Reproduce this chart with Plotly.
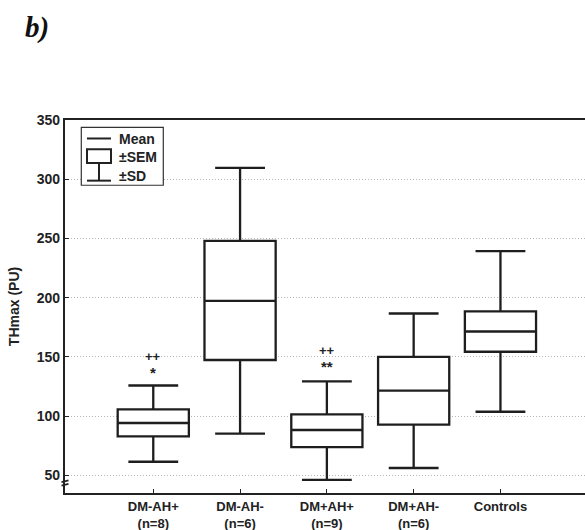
import plotly.graph_objects as go

categories = ["DM-AH+", "DM-AH-", "DM+AH+", "DM+AH-", "Controls"]
group_n = ["(n=8)", "(n=6)", "(n=9)", "(n=6)", ""]
mean_vals = [94.1, 197.3, 88.2, 121.4, 171.4]
sem_low = [82.8, 147.3, 73.8, 92.7, 154.3]
sem_high = [105.6, 247.9, 101.4, 150.0, 188.4]
sd_low = [61.4, 85.1, 46.0, 56.1, 103.6]
sd_high = [125.8, 309.5, 129.2, 186.6, 239.2]
sig_top = ["++", "", "++", "", ""]
sig_top_y = [150.3, None, 155.4, None, None]
sig_bot = ["*", "", "**", "", ""]
sig_bot_y = [136.8, None, 141.9, None, None]
y_ticks = [50, 100, 150, 200, 250, 300, 350]

FONT = "Liberation Sans, Arial, sans-serif"
positions = list(range(len(categories)))
tick_text = [c + ("<br>" + n if n else "") for c, n in zip(categories, group_n)]

fig = go.Figure()
for i, c in enumerate(categories):
    fig.add_trace(go.Box(
        x=[positions[i]], q1=[sem_low[i]], median=[mean_vals[i]], q3=[sem_high[i]],
        lowerfence=[sd_low[i]], upperfence=[sd_high[i]],
        width=0.82, whiskerwidth=0.70,
        line=dict(color="#1e1e1e", width=2.3), fillcolor="white",
        boxpoints=False, showlegend=False, hoverinfo="skip",
    ))

for i in positions:
    if sig_top[i]:
        fig.add_annotation(x=i, y=sig_top_y[i], text=sig_top[i], showarrow=False,
                           font=dict(family=FONT, size=13, color="#222", weight="bold"))
        fig.add_annotation(x=i, y=sig_bot_y[i], text=sig_bot[i], showarrow=False,
                           font=dict(family=FONT, size=15, color="#222", weight="bold"))

def px(x):
    return (x - 65) / 520
def py(y):
    return 1 - (y - 120) / 373.3

# legend box (drawn manually)
fig.add_shape(type="rect", xref="paper", yref="paper", x0=px(81.3), x1=px(163.3),
              y0=py(185.3), y1=py(127.3), line=dict(color="#333", width=1.2),
              fillcolor="white", layer="above")
fig.add_shape(type="line", xref="paper", yref="paper", x0=px(87), x1=px(111), y0=py(138.5), y1=py(138.5),
              line=dict(color="#222", width=2), layer="above")
fig.add_shape(type="rect", xref="paper", yref="paper", x0=px(87), x1=px(111), y0=py(163), y1=py(149.3),
              line=dict(color="#222", width=2), layer="above")
fig.add_shape(type="line", xref="paper", yref="paper", x0=px(99), x1=px(99), y0=py(180.7), y1=py(163),
              line=dict(color="#222", width=2), layer="above")
fig.add_shape(type="line", xref="paper", yref="paper", x0=px(87), x1=px(111), y0=py(180.7), y1=py(180.7),
              line=dict(color="#222", width=2), layer="above")
for txt, yy in [("Mean", 139.3), ("±SEM", 157.3), ("±SD", 176)]:
    fig.add_annotation(xref="paper", yref="paper", x=px(117), y=py(yy), text=txt, showarrow=False,
                       xanchor="left", yanchor="middle",
                       font=dict(family=FONT, size=14, color="#222", weight="bold"))

# axis break mark
for yy in [481.5, 485.0]:
    fig.add_shape(type="line", xref="paper", yref="paper", x0=px(61.5), x1=px(68.5), y0=py(yy + 0.8), y1=py(yy - 0.8),
                  line=dict(color="#222", width=1.8), layer="above")

# panel label
fig.add_annotation(xref="paper", yref="paper", x=px(23), y=py(27), text="<b><i>b)</i></b>", showarrow=False,
                   xanchor="left", yanchor="middle",
                   font=dict(family="Liberation Serif, Times New Roman, serif", size=29, color="#111"))

fig.update_layout(
    width=585, height=530,
    margin=dict(l=65, r=0, t=120, b=36.7, autoexpand=False),
    paper_bgcolor="white", plot_bgcolor="white",
    font=dict(family=FONT, size=14, color="#222"),
    xaxis=dict(range=[-1.017, 4.974], tickmode="array", tickvals=positions, ticktext=tick_text,
               showline=True, linecolor="#222", linewidth=2.3, mirror=True, automargin=False,
               ticks="inside", ticklen=4, tickcolor="#222", showgrid=False, zeroline=False,
               ticklabelstandoff=0,
               tickfont=dict(family=FONT, size=13, color="#222", weight="bold")),
    yaxis=dict(range=[35, 350], tickmode="array", tickvals=y_ticks, automargin=False,
               showline=True, linecolor="#222", linewidth=2.3,
               ticks="inside", ticklen=4, tickcolor="#222",
               showgrid=True, gridcolor="#b5b5b5", griddash="1px,2px", gridwidth=1, zeroline=False,
               tickfont=dict(family=FONT, size=14, color="#222", weight="bold"),
               title=dict(text="THmax (PU)", standoff=14,
                          font=dict(family=FONT, size=14, color="#222", weight="bold"))),
)

fig.write_html("out.html")
